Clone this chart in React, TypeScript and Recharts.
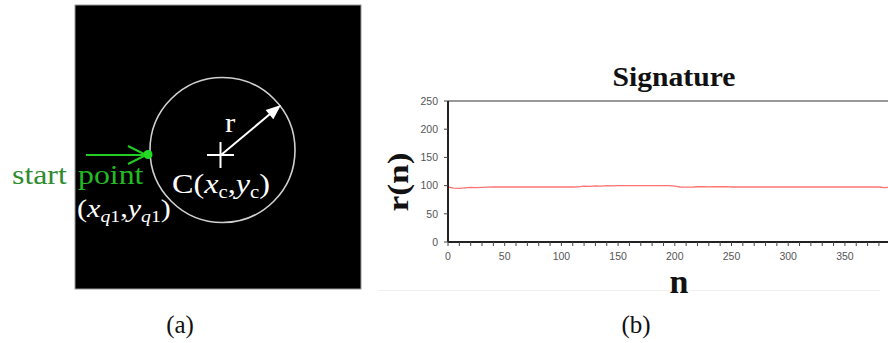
import React from 'react';
import { LineChart, Line, XAxis, YAxis, ReferenceLine } from 'recharts';

// Signature r(n) sampled along the contour
const nValues = [
  0, 5, 10, 15, 20, 25, 30, 35, 40, 45, 50, 55, 60, 65, 70, 75, 80, 85, 90, 95,
  100, 105, 110, 115, 120, 125, 130, 135, 140, 145, 150, 155, 160, 165, 170, 175, 180, 185, 190, 195,
  200, 205, 210, 215, 220, 225, 230, 235, 240, 245, 250, 255, 260, 265, 270, 275, 280, 285, 290, 295,
  300, 305, 310, 315, 320, 325, 330, 335, 340, 345, 350, 355, 360, 365, 370, 375, 380, 385, 388,
];
const rValues = [
  97.5, 95.5, 95, 96, 97, 96.5, 97, 97.3, 97.5, 97.5, 97.5, 97.5, 97.5, 97.5, 97.5, 97.5, 97.5, 97.5, 97.5, 97.5,
  97.5, 97.5, 97.5, 97.7, 99, 98.5, 99.5, 99, 100, 99.5, 100, 100, 100, 100, 100, 100, 100, 100, 100, 100,
  99, 97.5, 97.3, 97.3, 98, 98.3, 97.8, 98.3, 98, 98.3, 97.5, 97.5, 97.5, 97.5, 97.5, 97.5, 97.5, 97.5, 97.5, 97.5,
  97.5, 97.5, 97.5, 97.5, 97.5, 97.5, 97.5, 97.5, 97.5, 97.5, 97.5, 97.5, 97.5, 97.5, 97.5, 97.5, 97.5, 96.5, 97,
];
const xTicks = [
  0, 10, 20, 30, 40, 50, 60, 70, 80, 90, 100, 110, 120, 130, 140, 150, 160, 170, 180, 190,
  200, 210, 220, 230, 240, 250, 260, 270, 280, 290, 300, 310, 320, 330, 340, 350, 360, 370, 380,
];
const yTicks = [0, 50, 100, 150, 200, 250];

const data = nValues.map((n, i) => ({ n, r: rValues[i] }));

const serif = '"Liberation Serif", "Times New Roman", serif';
const sans = '"Liberation Sans", Arial, sans-serif';

const tickStyle = { fill: '#555', fontSize: 10.5, fontFamily: sans };

function PanelA() {
  return (
    <g>
      <rect x={75} y={5} width={286} height={284} fill="#000" stroke="#999" strokeWidth={1} />
      {/* circle */}
      <circle cx={222.5} cy={150} r={72.5} fill="none" stroke="#d0d0d0" strokeWidth={1.6} />
      {/* centre cross */}
      <line x1={207} y1={155} x2={234} y2={155} stroke="#fff" strokeWidth={2} />
      <line x1={220.5} y1={142} x2={220.5} y2={168} stroke="#fff" strokeWidth={2} />
      {/* radius arrow */}
      <line x1={221} y1={155} x2={270} y2={114} stroke="#fff" strokeWidth={2} />
      <polygon points="281,105 273.3,119.2 265.7,110" fill="#fff" />
      <g transform="translate(225,132) scale(1.1,1)">
        <text x={0} y={0} fill="#fff" fontFamily={serif} fontSize={28}>r</text>
      </g>
      {/* start point */}
      <line x1={86} y1={155} x2={146} y2={155} stroke="#22cc22" strokeWidth={2} />
      <line x1={128} y1={146} x2={146} y2={155} stroke="#22cc22" strokeWidth={2} />
      <line x1={128} y1={164} x2={146} y2={155} stroke="#22cc22" strokeWidth={2} />
      <circle cx={148} cy={154.5} r={4.5} fill="#22dd22" />
      <g transform="translate(12,184) scale(1.18,1)">
        <text x={0} y={0} fill="#2e8b2e" fontFamily={serif} fontSize={27}>start</text>
      </g>
      <g transform="translate(78,184) scale(1.18,1)">
        <text x={0} y={0} fill="#22bb22" fontFamily={serif} fontSize={27}>point</text>
      </g>
      <g transform="translate(172,193) scale(1.15,1)">
        <text x={0} y={0} fill="#fff" fontFamily={serif} fontSize={28}>
          C(<tspan fontStyle="italic">x</tspan>
          <tspan fontSize={18} dy={5}>c</tspan>
          <tspan dy={-5}>,</tspan>
          <tspan fontStyle="italic">y</tspan>
          <tspan fontSize={18} dy={5}>c</tspan>
          <tspan dy={-5}>)</tspan>
        </text>
      </g>
      <g transform="translate(77,217) scale(1.16,1)">
        <text x={0} y={0} fill="#fff" fontFamily={serif} fontSize={26}>
          (<tspan fontStyle="italic">x</tspan>
          <tspan fontSize={17} dy={5} fontStyle="italic">q</tspan>
          <tspan fontSize={17}>1</tspan>
          <tspan dy={-5}>,</tspan>
          <tspan fontStyle="italic">y</tspan>
          <tspan fontSize={17} dy={5} fontStyle="italic">q</tspan>
          <tspan fontSize={17}>1</tspan>
          <tspan dy={-5}>)</tspan>
        </text>
      </g>
    </g>
  );
}

export default function App() {
  return (
    <div style={{ position: 'absolute', left: 0, top: 0, width: 888, height: 343, background: '#fff', overflow: 'hidden' }}>
      <div style={{ position: 'absolute', left: 0, top: 0 }}>
        <LineChart width={888} height={343} data={data} margin={{ top: 101, right: 0, bottom: 71, left: 0 }}>
          <XAxis
            dataKey="n"
            type="number"
            domain={[0, 388]}
            ticks={xTicks}
            interval={0}
            allowDataOverflow
            height={30}
            tickSize={4}
            tickMargin={7}
            tick={tickStyle}
            tickFormatter={(v: number) => (v % 50 === 0 ? String(v) : '')}
            axisLine={{ stroke: '#222', strokeWidth: 2 }}
            tickLine={{ stroke: '#444' }}
          />
          <YAxis
            type="number"
            domain={[0, 250]}
            ticks={yTicks}
            interval={0}
            width={448}
            tickSize={4}
            tickMargin={6}
            tick={tickStyle}
            axisLine={{ stroke: '#222', strokeWidth: 2 }}
            tickLine={{ stroke: '#444' }}
          />
          <ReferenceLine y={250} stroke="#999" strokeWidth={2} />
          <Line type="linear" dataKey="r" stroke="#ff7373" strokeWidth={1.3} dot={false} isAnimationActive={false} />
        </LineChart>
      </div>
      <svg width={888} height={343} style={{ position: 'absolute', left: 0, top: 0, pointerEvents: 'none' }}>
        <PanelA />
        <line x1={378} y1={290.5} x2={880} y2={290.5} stroke="#f0f0f0" strokeWidth={1} />
        <text x={612.5} y={86} fontFamily={serif} fontWeight="bold" fontSize={28} textLength={123} lengthAdjust="spacingAndGlyphs" fill="#111">Signature</text>
        <text transform="translate(408,182) rotate(-90)" textAnchor="middle" fontFamily={serif} fontWeight="bold" fontSize={30} textLength={59} lengthAdjust="spacingAndGlyphs" fill="#111">r(n)</text>
        <text x={679} y={293} textAnchor="middle" fontFamily={serif} fontWeight="bold" fontSize={34} fill="#111">n</text>
        <text x={180} y={333} textAnchor="middle" fontFamily={serif} fontSize={25} fill="#111">(a)</text>
        <text x={636} y={333} textAnchor="middle" fontFamily={serif} fontSize={25} fill="#111">(b)</text>
      </svg>
    </div>
  );
}
